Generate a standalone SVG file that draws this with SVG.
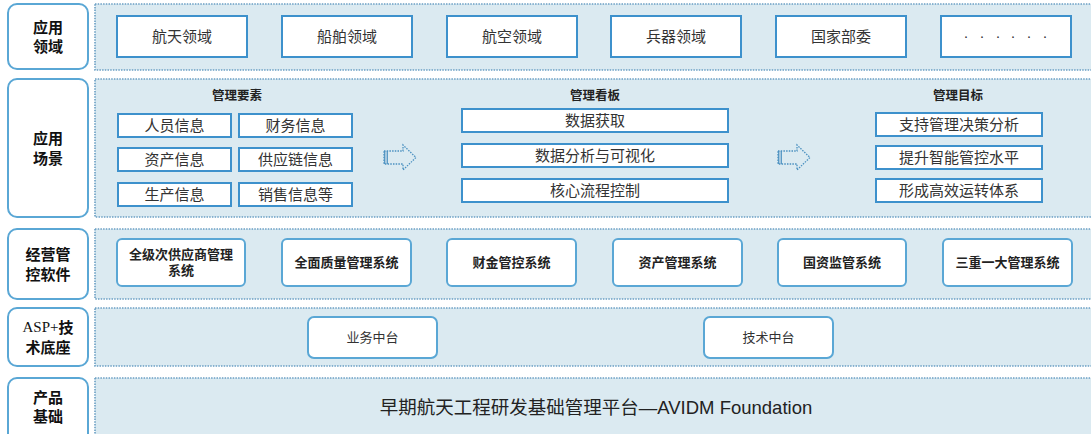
<svg xmlns="http://www.w3.org/2000/svg" width="1091" height="434" viewBox="0 0 1091 434">
<style>
text{font-family:"Liberation Sans","Noto Sans CJK SC",sans-serif;fill:#222;text-anchor:middle;dominant-baseline:central}
.lab{fill:#fff;stroke:#5aa7d5;stroke-width:2}
.labt{font-size:15px;font-weight:bold;fill:#111}
.panel{fill:#dbeaf1;stroke:#6a9fc4;stroke-width:1.6;stroke-dasharray:1.5 1.2}
.box{fill:#fff;stroke:#3d91cc;stroke-width:2}
.rbox{fill:#fff;stroke:#5aa7d5;stroke-width:2}
.t15{font-size:15px;fill:#333}
.t14{font-size:15px;fill:#333}
.h{font-size:12.5px;font-weight:bold;fill:#222}
.b12{font-size:13px;font-weight:bold;fill:#222}
.t12{font-size:13px;fill:#333}
.arr{fill:none;stroke:#4a90c0;stroke-width:1.3;stroke-dasharray:1.5 1.2}
</style>
<defs>
<pattern id="hatch" width="1.6" height="4" patternUnits="userSpaceOnUse"><rect width="0.8" height="4" fill="#4a90c0"/></pattern>
<g id="arrow">
<rect x="0" y="6" width="4" height="13" fill="url(#hatch)"/>
<path class="arr" d="M0 6 H19 V0 L32 12.5 L19 25 V19 H0 Z"/>
</g>
</defs>
<rect width="1091" height="434" fill="#fff"/>

<g id="labels">
<g id="lab-1"><rect class="lab" x="8" y="4" width="80" height="65" rx="9"/><text class="labt" x="48" y="27">应用</text><text class="labt" x="48" y="46">领域</text></g>
<g id="lab-2"><rect class="lab" x="8" y="79" width="80" height="138" rx="9"/><text class="labt" x="48" y="138">应用</text><text class="labt" x="48" y="158">场景</text></g>
<g id="lab-3"><rect class="lab" x="8" y="229" width="80" height="70" rx="9"/><text class="labt" x="48" y="254">经营管</text><text class="labt" x="48" y="274">控软件</text></g>
<g id="lab-4"><rect class="lab" x="8" y="308" width="80" height="58" rx="9"/><text class="labt" x="48" y="327"><tspan font-family="Liberation Serif" font-weight="normal">ASP+</tspan>技</text><text class="labt" x="48" y="347">术底座</text></g>
<g id="lab-5"><rect class="lab" x="8" y="378" width="80" height="64" rx="9"/><text class="labt" x="48" y="397">产品</text><text class="labt" x="48" y="416">基础</text></g>
</g>

<g id="panels">
<rect class="panel" x="95" y="4" width="1000" height="66"/>
<rect class="panel" x="95" y="79" width="1000" height="138"/>
<rect class="panel" x="95" y="229" width="1000" height="70"/>
<rect class="panel" x="95" y="308" width="1000" height="58"/>
<rect class="panel" x="95" y="378" width="1000" height="70"/>
</g>

<g id="domains">
<g id="d1"><rect class="box" x="117" y="16" width="130" height="41"/><text class="t15" x="182" y="36.5">航天领域</text></g>
<g id="d2"><rect class="box" x="282" y="16" width="130" height="41"/><text class="t15" x="347" y="36.5">船舶领域</text></g>
<g id="d3"><rect class="box" x="447" y="16" width="130" height="41"/><text class="t15" x="512" y="36.5">航空领域</text></g>
<g id="d4"><rect class="box" x="611" y="16" width="130" height="41"/><text class="t15" x="676" y="36.5">兵器领域</text></g>
<g id="d5"><rect class="box" x="776" y="16" width="130" height="41"/><text class="t15" x="841" y="36.5">国家部委</text></g>
<g id="d6"><rect class="box" x="941" y="16" width="130" height="41"/><text class="t15" x="966 982 998 1013 1029 1045" y="35.5">······</text></g>
</g>

<g id="scenes">
<text class="h" x="237" y="96">管理要素</text>
<g id="s1"><rect class="box" x="118" y="114" width="113" height="23"/><text class="t14" x="174.5" y="125.5">人员信息</text></g>
<g id="s2"><rect class="box" x="239" y="114" width="113" height="23"/><text class="t14" x="295.5" y="125.5">财务信息</text></g>
<g id="s3"><rect class="box" x="118" y="148" width="113" height="23"/><text class="t14" x="174.5" y="159.5">资产信息</text></g>
<g id="s4"><rect class="box" x="239" y="148" width="113" height="23"/><text class="t14" x="295.5" y="159.5">供应链信息</text></g>
<g id="s5"><rect class="box" x="118" y="183" width="113" height="23"/><text class="t14" x="174.5" y="194.5">生产信息</text></g>
<g id="s6"><rect class="box" x="239" y="183" width="113" height="23"/><text class="t14" x="295.5" y="194.5">销售信息等</text></g>

<text class="h" x="595" y="96">管理看板</text>
<g id="k1"><rect class="box" x="462" y="109" width="266" height="23"/><text class="t14" x="595" y="120.5">数据获取</text></g>
<g id="k2"><rect class="box" x="462" y="144" width="266" height="23"/><text class="t14" x="595" y="155.5">数据分析与可视化</text></g>
<g id="k3"><rect class="box" x="462" y="179" width="266" height="23"/><text class="t14" x="595" y="190.5">核心流程控制</text></g>

<text class="h" x="958" y="96">管理目标</text>
<g id="g1"><rect class="box" x="876" y="113" width="166" height="23"/><text class="t14" x="959" y="124.5">支持管理决策分析</text></g>
<g id="g2"><rect class="box" x="876" y="146" width="166" height="23"/><text class="t14" x="959" y="157.5">提升智能管控水平</text></g>
<g id="g3"><rect class="box" x="876" y="179" width="166" height="23"/><text class="t14" x="959" y="190.5">形成高效运转体系</text></g>
</g>

<g id="connectors">
<use href="#arrow" x="384" y="145"/>
<use href="#arrow" x="778" y="145"/>
</g>

<g id="software">
<g id="w1"><rect class="rbox" x="117" y="239" width="128" height="47" rx="5"/><text class="b12" x="181" y="254">全级次供应商管理</text><text class="b12" x="181" y="270">系统</text></g>
<g id="w2"><rect class="rbox" x="282" y="239" width="129" height="47" rx="5"/><text class="b12" x="346.5" y="262.5">全面质量管理系统</text></g>
<g id="w3"><rect class="rbox" x="447" y="239" width="129" height="47" rx="5"/><text class="b12" x="511.5" y="262.5">财金管控系统</text></g>
<g id="w4"><rect class="rbox" x="613" y="239" width="129" height="47" rx="5"/><text class="b12" x="677.5" y="262.5">资产管理系统</text></g>
<g id="w5"><rect class="rbox" x="778" y="239" width="128" height="47" rx="5"/><text class="b12" x="842" y="262.5">国资监管系统</text></g>
<g id="w6"><rect class="rbox" x="943" y="239" width="129" height="47" rx="5"/><text class="b12" x="1007.5" y="262.5">三重一大管理系统</text></g>
</g>

<g id="tech">
<g id="m1"><rect class="rbox" x="308" y="317" width="129" height="41" rx="6"/><text class="t12" x="372.5" y="337.5">业务中台</text></g>
<g id="m2"><rect class="rbox" x="704" y="317" width="129" height="41" rx="6"/><text class="t12" x="768.5" y="337.5">技术中台</text></g>
</g>

<g id="base">
<text x="596" y="407" font-size="18.5" fill="#333">早期航天工程研发基础管理平台—AVIDM Foundation</text>
</g>
</svg>
